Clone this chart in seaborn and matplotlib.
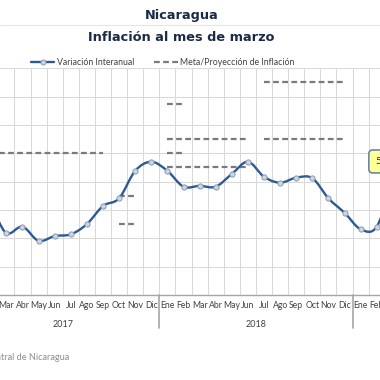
import numpy as np
import pandas as pd
import matplotlib.pyplot as plt
import matplotlib.transforms as mtransforms
from matplotlib.path import Path
from matplotlib.patches import PathPatch
from matplotlib.lines import Line2D
import seaborn as sns

# ---- data ----
months = ["Ene", "Feb", "Mar", "Abr", "May", "Jun", "Jul", "Ago", "Sep", "Oct", "Nov", "Dic"]
years = ["2017", "2018", "2019"]
month_labels = months + months + months[:3]

inflacion = [3.60, 4.05, 3.18, 3.41, 2.91, 3.08, 3.14, 3.50, 4.14, 4.41, 5.38, 5.70,
             5.38, 4.82, 4.85, 4.82, 5.27, 5.70, 5.17, 4.96, 5.14, 5.12, 4.41, 3.90,
             3.32, 3.41, 5.04]

# meta / proyeccion segments: (first month index, last month index, value)
meta_2017 = [(0, 8, 6.0)]
meta_rev_2017 = [(9, 10, 4.5), (9, 10, 3.5)]
meta_ene_2018 = [(12, 13, 7.75), (12, 13, 6.0)]
meta_2018 = [(12, 17, 6.5), (12, 17, 5.5)]
meta_rev_2018 = [(18, 23, 8.5), (18, 23, 6.5)]

callout_label = "5.04%"

# ---- style ----
sns.set_theme(style="white")
plt.rcParams["font.family"] = ["Lato", "DejaVu Sans"]

blue = "#2E5A94"
grey_dash = "#7A7A7A"
grid_c = "#D9D9D9"
text_c = "#404040"

fig = plt.figure(figsize=(3.8, 3.8), dpi=100)
ax = fig.add_axes([-0.0892, 0.2237, 1.1442, 0.5968])

x = np.arange(len(inflacion))
y = np.array(inflacion)

# meta lines
rows = []
seg = 0
for group in [meta_2017, meta_rev_2017, meta_ene_2018, meta_2018, meta_rev_2018]:
    for a, b, v in group:
        for i in range(a, b + 1):
            rows.append({"mes": i, "valor": v, "seg": seg})
        seg += 1
meta_df = pd.DataFrame(rows)
sns.lineplot(data=meta_df, x="mes", y="valor", units="seg", estimator=None,
             color=grey_dash, linewidth=1.6, linestyle=(0, (2.6, 1.5)), ax=ax, zorder=2)

# smooth curve (Bezier, like the spreadsheet's smoothed line)
pts = np.column_stack([x, y])
verts = [pts[0]]
codes = [Path.MOVETO]
n = len(pts)
for i in range(n - 1):
    p0 = pts[max(i - 1, 0)]
    p1 = pts[i]
    p2 = pts[i + 1]
    p3 = pts[min(i + 2, n - 1)]
    c1 = p1 + (p2 - p0) / 6.0
    c2 = p2 - (p3 - p1) / 6.0
    verts += [c1, c2, p2]
    codes += [Path.CURVE4] * 3
ax.add_patch(PathPatch(Path(verts, codes), fill=False, edgecolor=blue, linewidth=1.7,
                       capstyle="round", joinstyle="round", zorder=3))

sns.scatterplot(x=x, y=y, s=14, color="#CDD5E0", edgecolor="#8A9BB5", linewidth=0.7,
                ax=ax, zorder=4, legend=False)

# callout on last point
ax.annotate(callout_label, xy=(x[-1], y[-1]), xytext=(-17, 19), textcoords="offset pixels",
            ha="left", va="center", fontsize=7.2, color="#262626", zorder=6,
            bbox=dict(boxstyle="round,pad=0.7,rounding_size=0.4", fc="#FFFF99",
                      ec="#5F7BA8", lw=1.1))

# axes
ax.set_xlim(-0.5, len(inflacion) - 0.5)
ax.set_ylim(1, 9)
ax.set_yticks(range(1, 10))
ax.set_yticklabels([])
ax.tick_params(axis="y", length=0)
ax.set_xticks(x)
ax.set_xticklabels(month_labels, fontsize=6.2, color=text_c)
ax.set_xticks(np.arange(-0.5, len(inflacion), 1), minor=True)
ax.tick_params(axis="x", which="both", length=0, pad=4.5)
ax.yaxis.grid(True, color=grid_c, linewidth=0.75)
ax.xaxis.grid(True, which="minor", color=grid_c, linewidth=0.75)
ax.xaxis.grid(False, which="major")
ax.set_xlabel("")
ax.set_ylabel("")
for s in ["top", "left", "right"]:
    ax.spines[s].set_visible(False)
ax.spines["bottom"].set_color("#A6A6A6")
ax.spines["bottom"].set_linewidth(1.0)

# year labels and separators
trans = mtransforms.blended_transform_factory(ax.transData, ax.transAxes)
for k, yr in enumerate(years[:2]):
    ax.text(12 * k + 5.5, -0.128, yr, transform=trans, ha="center", va="center",
            fontsize=6.5, color=text_c)
for sep in [-0.5, 11.5, 23.5]:
    ax.plot([sep, sep], [0, -0.147], transform=trans, color="#A6A6A6", lw=1.2,
            clip_on=False)

# titles
fig.text(181.7 / 380, 1 - 16 / 380, "Nicaragua", ha="center", va="center",
         fontsize=9.3, fontweight="bold", color="#1B2A47", family="DejaVu Sans")
fig.text(181.2 / 380, 1 - 37.7 / 380, "Inflación al mes de marzo", ha="center", va="center",
         fontsize=9.3, fontweight="bold", color="#1B2A47", family="DejaVu Sans")
fig.add_artist(Line2D([0, 1], [1 - 25 / 380, 1 - 25 / 380], transform=fig.transFigure,
                      color="#E6E6E6", lw=0.8))

# legend
handles = [Line2D([], [], color=blue, lw=1.7, marker="o", markersize=3.6,
                  markerfacecolor="#CDD5E0", markeredgecolor="#8A9BB5", markeredgewidth=0.7),
           Line2D([], [], color=grey_dash, lw=1.6, linestyle=(0, (2.6, 1.5)))]
fig.legend(handles, ["Variación Interanual", "Meta/Proyección de Inflación"],
           loc="center", bbox_to_anchor=(162.5 / 380, 1 - 62.3 / 380), ncol=2,
           frameon=False, fontsize=6.3, handlelength=2.7, handletextpad=0.25,
           columnspacing=2.3, labelcolor=text_c)

# source
fig.text(69 / 380, 1 - 357 / 380, "Fuente: Banco Central de Nicaragua", ha="right",
         va="center", fontsize=6.6, color="#8C8C8C")

fig.savefig("out.png", dpi=100)
